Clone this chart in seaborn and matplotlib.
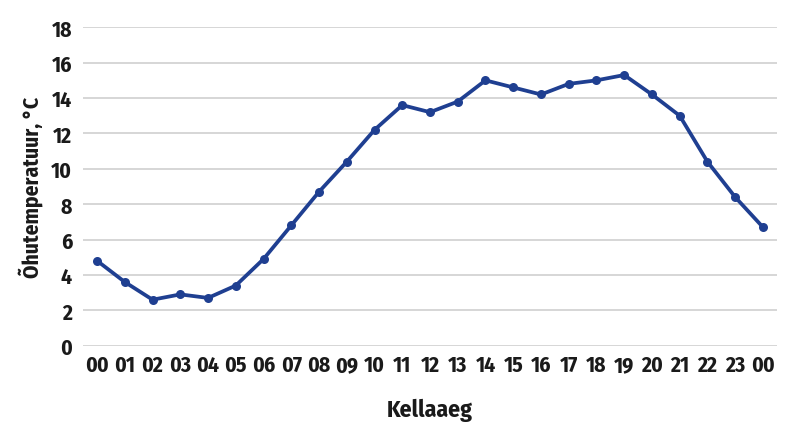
import matplotlib
matplotlib.use("Agg")
import matplotlib.pyplot as plt
import seaborn as sns
import pandas as pd

hours = ["00", "01", "02", "03", "04", "05", "06", "07", "08", "09", "10", "11", "12",
         "13", "14", "15", "16", "17", "18", "19", "20", "21", "22", "23", "00"]
temps = [4.8, 3.6, 2.6, 2.9, 2.7, 3.4, 4.9, 6.8, 8.7, 10.4, 12.2, 13.6, 13.2,
         13.8, 15.0, 14.6, 14.2, 14.8, 15.0, 15.3, 14.2, 13.0, 10.4, 8.4, 6.7]
y_ticks = [0, 2, 4, 6, 8, 10, 12, 14, 16, 18]

sns.set_theme(style="white")
plt.rcParams['font.family'] = ['Fira Sans Condensed', 'PT Sans Narrow', 'Roboto Condensed',
                               'Saira SemiCondensed', 'DejaVu Sans']

df = pd.DataFrame({"pos": range(len(hours)), "temp": temps})

fig = plt.figure(figsize=(8, 4.35), dpi=100)
ax = fig.add_axes([0.104, 0.203, 0.867, 0.732])

sns.lineplot(data=df, x="pos", y="temp", ax=ax, color="#1f3f91", linewidth=2.7,
             marker="o", markersize=6.5, markeredgewidth=0, zorder=3)

ax.set_ylim(0, 18)
ax.set_xlim(-0.5, len(hours) - 0.5)
ax.set_yticks(y_ticks)
ax.set_yticklabels([str(v) for v in y_ticks])
ax.set_xticks(range(len(hours)))
ax.set_xticklabels(hours)
ax.yaxis.grid(True, color="#d0d0d0", linewidth=1.2)
ax.xaxis.grid(False)
for s in ax.spines.values():
    s.set_visible(False)
ax.tick_params(axis="both", length=0, labelsize=15.5, colors="#1a1a1a")
ax.tick_params(axis="y", pad=8)
ax.tick_params(axis="x", pad=6)
for lab in ax.get_xticklabels() + ax.get_yticklabels():
    lab.set_fontweight("bold")

ax.set_xlabel("Kellaaeg", fontsize=17, fontweight="bold", color="#1a1a1a", labelpad=16)
ax.set_ylabel("Õhutemperatuur, °C", fontsize=15.5, fontweight="bold", color="#1a1a1a", labelpad=6)

fig.savefig("out.png", dpi=100, facecolor="white")
